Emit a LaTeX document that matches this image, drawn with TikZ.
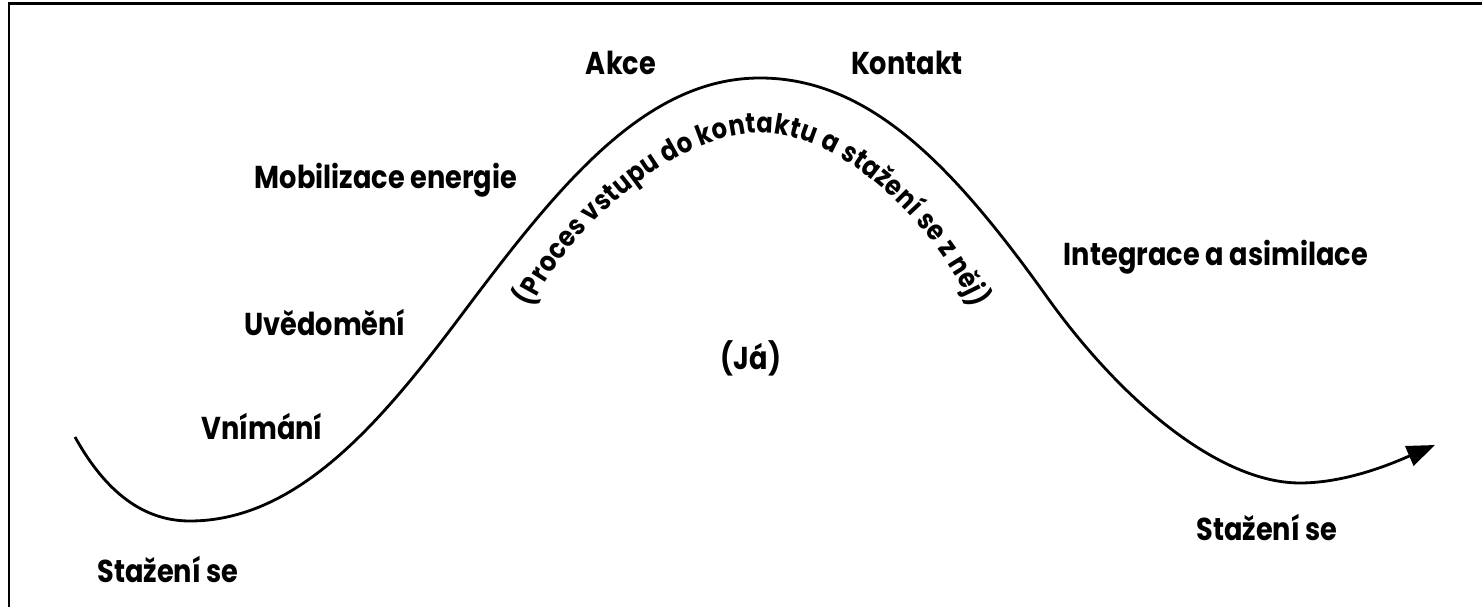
\documentclass[tikz,border=0pt]{standalone}
\usepackage{fontspec}
\setmainfont{Poppins}[FakeStretch=0.86]
\usetikzlibrary{arrows.meta,decorations.text}

\begin{document}
\begin{tikzpicture}[
  x=0.02cm, y=-0.02cm,
  font=\fontsize{18}{21}\selectfont\bfseries,
  lbl/.style={inner sep=0pt},
  frame/.style={line width=1.7pt},
  wave/.style={line width=1.6pt, -{Triangle[length=0.56cm, width=0.42cm]}}
]
\useasboundingbox (0,0) rectangle (1482,607);
\clip (0,0) rectangle (1482,607);
\draw[frame] (9,640) -- (9,4) -- (1520,4);

\coordinate (start) at (75,437);
\coordinate (lowL) at (190,521);
\coordinate (turnL) at (463,313);
\coordinate (peak) at (760,78);
\coordinate (turnR) at (1047,297);
\coordinate (lowR) at (1300,483);
\coordinate (tip) at (1435,445);

\draw[wave] (start) .. controls (110,500) and (150,521) .. (lowL)
  .. controls (300,521) and (385,417) .. (turnL)
  .. controls (559,185) and (645,78) .. (peak)
  .. controls (870,78) and (954,167) .. (turnR)
  .. controls (1122,402) and (1220,483) .. (lowR)
  .. controls (1350,483) and (1400,460) .. (tip);

\node[lbl] (akce) at (621,63) {Akce};
\node[lbl] (kontakt) at (907,63) {Kontakt};
\node[lbl] (mobil) at (386,180) {Mobilizace energie};
\node[lbl] (uved) at (325,323) {Uvědomění};
\node[lbl] (vnim) at (262,427) {Vnímání};
\node[lbl] (stazL) at (168,570) {Stažení se};
\node[lbl] (integ) at (1216,257) {Integrace a asimilace};
\node[lbl] (stazR) at (1267,528) {Stažení se};
\node[lbl] (ja) at (751,358) {(Já)};

\path[decorate, decoration={text along path, text align=fit to path,
  text={|\fontsize{16}{19}\selectfont\bfseries|(Proces vstupu do kontaktu a stažení se z něj)}}]
  (532,308) .. controls (560,240) and (670,133) .. (760,133)
  .. controls (850,133) and (945,240) .. (972,308);
\end{tikzpicture}
\end{document}
